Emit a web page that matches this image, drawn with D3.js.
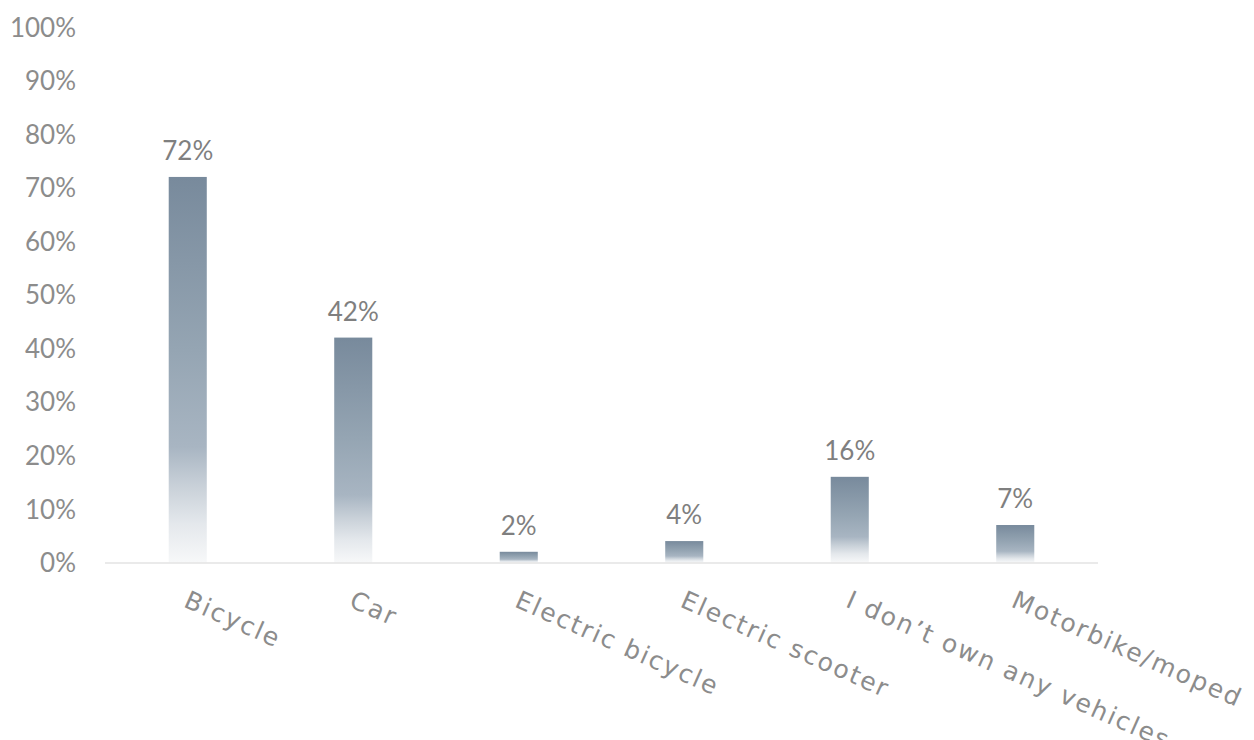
<!DOCTYPE html>
<html><head><meta charset="utf-8">
<script src="https://cdn.jsdelivr.net/npm/d3@7"></script>
<style>body{margin:0;background:#fff}svg{display:block}</style>
</head><body>
<svg id="c" width="1254" height="740"></svg>
<script>
const categories = ["Bicycle","Car","Electric bicycle","Electric scooter","I don\u2019t own any vehicles","Motorbike/moped"];
const values = [0.72,0.42,0.02,0.04,0.16,0.07];
const yTicks = [0,0.1,0.2,0.3,0.4,0.5,0.6,0.7,0.8,0.9,1.0];

const svg = d3.select("#c");
const x = d3.scaleBand().domain(categories).range([105,1098]).paddingInner(0.77).paddingOuter(0.385);
const y = d3.scaleLinear().domain([0,1]).range([562.5,27]);

const defs = svg.append("defs");
const g = defs.append("linearGradient").attr("id","bg").attr("x1",0).attr("y1",0).attr("x2",0).attr("y2",1);
[[0,"#788a9c"],[0.45,"#95a5b3"],[0.7,"#a8b5c2"],[0.8,"#c8d0d8"],[0.9,"#e4e8ec"],[1,"#f7f8f9"]]
  .forEach(([o,c])=>g.append("stop").attr("offset",o).attr("stop-color",c));

// y axis labels
const yAxis = d3.axisLeft(y).tickValues(yTicks).tickFormat(d3.format(".0%")).tickSize(0).tickPadding(0);
const ya = svg.append("g").attr("transform","translate(76,0)").call(yAxis);
ya.select(".domain").remove();
ya.selectAll("text").style("font-family","Lato, sans-serif").style("font-size","26px")
  .attr("fill","#8c8c8c").attr("dy","0.35em");

// bars
svg.selectAll("rect.bar").data(values).join("rect").attr("class","bar")
  .attr("x",(d,i)=>x(categories[i])).attr("width",x.bandwidth())
  .attr("y",d=>y(d)).attr("height",d=>y(0)-y(d)).attr("fill","url(#bg)");

// baseline
svg.append("line").attr("x1",105).attr("x2",1098).attr("y1",y(0)+0.5).attr("y2",y(0)+0.5)
  .attr("stroke","#e3e3e3").attr("stroke-width",1.5);

// data labels
svg.selectAll("text.val").data(values).join("text").attr("class","val")
  .attr("x",(d,i)=>x(categories[i])+x.bandwidth()/2).attr("y",d=>y(d)-17)
  .attr("text-anchor","middle").style("font-family","Lato, sans-serif").style("font-size","26px").attr("fill","#7f7f7f")
  .text(d=>d3.format(".0%")(d));

// category labels
svg.selectAll("text.cat").data(categories).join("text").attr("class","cat")
  .attr("transform",d=>`translate(${x(d)+x.bandwidth()/2+3},${588}) rotate(24)`)
  .attr("dy","0.8em").attr("text-anchor","start").attr("fill","#8c8c8c")
  .style("font-family","'DejaVu Sans', sans-serif").style("font-size","25px").style("letter-spacing","2px")
  .text(d=>d);
</script>
</body></html>
